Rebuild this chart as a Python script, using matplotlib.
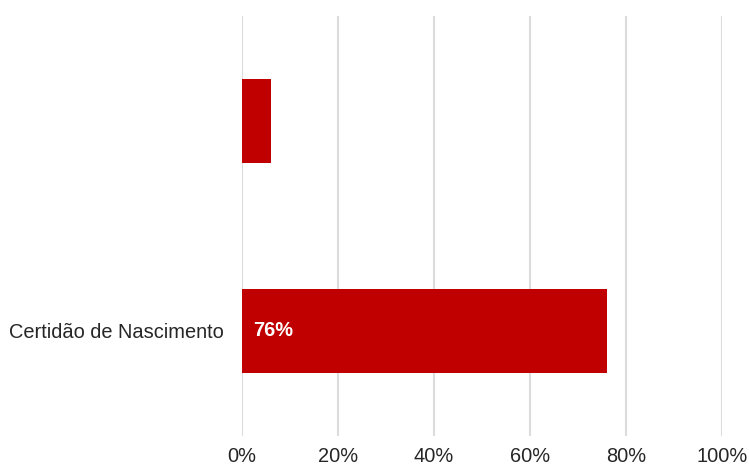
import matplotlib
matplotlib.use('Agg')
import matplotlib.pyplot as plt

# Data
categories = ['', 'Certidão de Nascimento']
values = [6, 76]
value_labels = ['', '76%']
xticks = [0, 20, 40, 60, 80, 100]
xtick_labels = ['0%', '20%', '40%', '60%', '80%', '100%']

plt.rcParams['font.family'] = ['Liberation Sans', 'DejaVu Sans']

fig = plt.figure(figsize=(7.49, 4.68), dpi=100)
ax = fig.add_axes([242 / 749, 1 - 436 / 468, 480 / 749, 420 / 468])

pos = list(range(len(categories)))
ax.barh(pos, values, height=0.4, color='#C00000', zorder=3)

# value labels inside the bar base
for p, lab in zip(pos, value_labels):
    if lab:
        ax.annotate(lab, xy=(0, p), xytext=(8, 0), textcoords='offset points',
                    ha='left', va='center', color='white', fontsize=14.4,
                    fontweight='bold', zorder=4)

ax.set_yticks(pos)
ax.set_yticklabels(categories, fontsize=14.4, color='#262626')
ax.set_xticks(xticks)
ax.set_xticklabels(xtick_labels, fontsize=14.4, color='#262626')
ax.set_xlim(0, 100)
ax.set_ylim(1.5, -0.5)

ax.grid(axis='x', color='#dcdcdc', linewidth=1.5, zorder=0)
ax.tick_params(axis='both', length=0)
ax.tick_params(axis='x', pad=8)
ax.tick_params(axis='y', pad=13)
for s in ax.spines.values():
    s.set_visible(False)

fig.savefig('out.png', dpi=100)
